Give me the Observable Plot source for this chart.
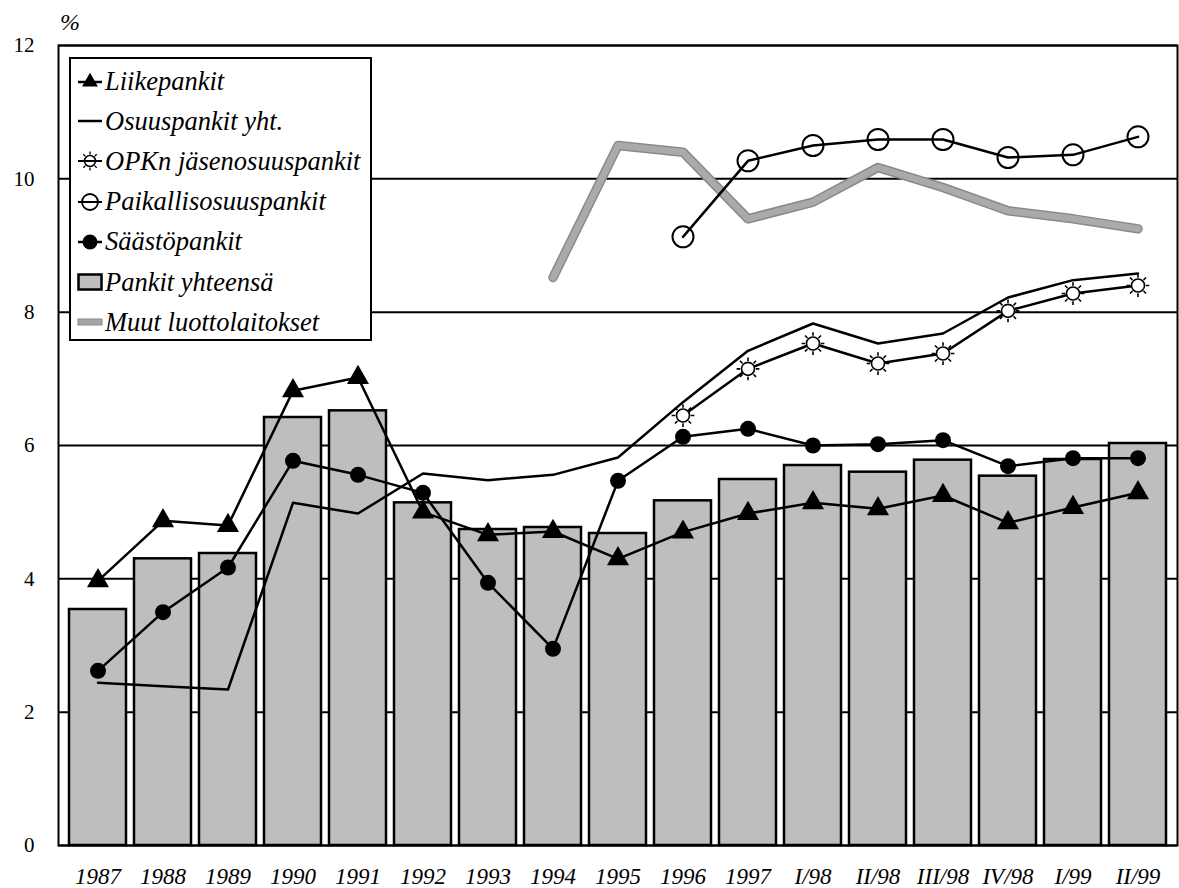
<!DOCTYPE html>
<html>
<head>
<meta charset="utf-8">
<script src="https://cdn.jsdelivr.net/npm/d3@7"></script>
<script src="https://cdn.jsdelivr.net/npm/@observablehq/plot@0.6"></script>
<style>
  html, body { margin: 0; padding: 0; background: white; }
  #wrap { position: relative; width: 1179px; height: 888px; overflow: hidden; font-family: "Liberation Serif", "Times New Roman", "DejaVu Serif", serif; }
  #wrap svg text { font-family: "Liberation Serif", "Times New Roman", "DejaVu Serif", serif; }
  #pct { position: absolute; left: 60px; top: 9px; font-style: italic; font-size: 24px; }
  #legend { position: absolute; left: 69px; top: 57px; width: 299px; height: 280px; border: 2px solid black; background: white; font-style: italic; font-size: 26.5px; }
  .row { position: absolute; left: 6px; height: 30px; display: flex; align-items: center; white-space: nowrap; }
  .row svg { margin-right: 2px; }
</style>
</head>
<body>
<div id="wrap">
  <div id="chart"></div>
  <div id="pct">%</div>
  <div id="legend"></div>
</div>
<script>
const categories = ["1987","1988","1989","1990","1991","1992","1993","1994","1995","1996","1997","I/98","II/98","III/98","IV/98","I/99","II/99"];
const yTicks = [0, 2, 4, 6, 8, 10, 12];
const seriesNames = ["Liikepankit", "Osuuspankit yht.", "OPKn jäsenosuuspankit", "Paikallisosuuspankit", "Säästöpankit", "Pankit yhteensä", "Muut luottolaitokset"];

const pankitYhteensa = [3.54, 4.30, 4.38, 6.42, 6.52, 5.14, 4.74, 4.77, 4.68, 5.17, 5.49, 5.70, 5.60, 5.78, 5.54, 5.79, 6.03];
const liikepankit = [3.97, 4.87, 4.80, 6.82, 7.02, 5.00, 4.66, 4.71, 4.30, 4.70, 4.98, 5.14, 5.05, 5.25, 4.84, 5.07, 5.29];
const saastopankit = [2.62, 3.50, 4.17, 5.77, 5.56, 5.29, 3.94, 2.95, 5.47, 6.13, 6.25, 6.00, 6.02, 6.08, 5.69, 5.81, 5.81];
const osuuspankit = [2.44, 2.39, 2.34, 5.14, 4.98, 5.58, 5.48, 5.56, 5.82, 6.65, 7.42, 7.83, 7.53, 7.68, 8.22, 8.48, 8.58];
const opkn = [null, null, null, null, null, null, null, null, null, 6.45, 7.15, 7.53, 7.23, 7.38, 8.02, 8.28, 8.40];
const paikallis = [null, null, null, null, null, null, null, null, null, 9.13, 10.27, 10.50, 10.59, 10.59, 10.32, 10.36, 10.63];
const muut = [null, null, null, null, null, null, null, 8.52, 10.50, 10.40, 9.40, 9.65, 10.17, 9.87, 9.52, 9.40, 9.25];

const rows = vals => categories.map((c, i) => ({c, v: vals[i]})).filter(d => d.v != null);

const sun = {
  draw(ctx, size) {
    const r = Math.sqrt(size / Math.PI);
    ctx.moveTo(r, 0);
    ctx.arc(0, 0, r, 0, 2 * Math.PI);
    for (let i = 0; i < 8; i++) {
      const a = i * Math.PI / 4;
      ctx.moveTo(Math.cos(a) * r * 1.2, Math.sin(a) * r * 1.2);
      ctx.lineTo(Math.cos(a) * r * 1.75, Math.sin(a) * r * 1.75);
    }
  }
};

const chart = Plot.plot({
  width: 1179, height: 888,
  marginLeft: 58, marginRight: 2, marginTop: 45, marginBottom: 43,
  style: {fontFamily: "'Liberation Serif', 'Times New Roman', serif", background: "white", color: "black", overflow: "visible"},
  x: {domain: categories, paddingInner: 0.13, paddingOuter: 0.05, axis: null},
  y: {domain: [0, 12], axis: null},
  marks: [
    Plot.gridY(yTicks, {stroke: "black", strokeOpacity: 1, strokeWidth: 2}),
    Plot.barY(rows(pankitYhteensa), {x: "c", y: "v", fill: "#bebebe", stroke: "black", strokeWidth: 2.5}),
    Plot.frame({stroke: "black", strokeWidth: 2}),
    Plot.axisX({tickSize: 0, tickPadding: 22, fontStyle: "italic", fontSize: 23, label: null}),
    Plot.axisY(yTicks, {tickSize: 0, tickPadding: 24, fontSize: 21, label: null, tickFormat: d => String(d)}),
    Plot.line(rows(muut), {x: "c", y: "v", stroke: "#8a8a8a", strokeWidth: 9.5, strokeLinejoin: "round", strokeLinecap: "round"}),
    Plot.line(rows(muut), {x: "c", y: "v", stroke: "#aaaaaa", strokeWidth: 6.5, strokeLinejoin: "round", strokeLinecap: "round"}),
    Plot.line(rows(osuuspankit), {x: "c", y: "v", stroke: "black", strokeWidth: 2.5}),
    Plot.line(rows(opkn), {x: "c", y: "v", stroke: "black", strokeWidth: 2.5}),
    Plot.dot(rows(opkn), {x: "c", y: "v", symbol: sun, r: 6.5, fill: "white", stroke: "black", strokeWidth: 1.6}),
    Plot.line(rows(paikallis), {x: "c", y: "v", stroke: "black", strokeWidth: 2.5}),
    Plot.dot(rows(paikallis), {x: "c", y: "v", r: 10.5, fill: "none", stroke: "black", strokeWidth: 2}),
    Plot.line(rows(saastopankit), {x: "c", y: "v", stroke: "black", strokeWidth: 2.5}),
    Plot.dot(rows(saastopankit), {x: "c", y: "v", r: 8, fill: "black"}),
    Plot.line(rows(liikepankit), {x: "c", y: "v", stroke: "black", strokeWidth: 2.5}),
    Plot.dot(rows(liikepankit), {x: "c", y: "v", symbol: "triangle", r: 8.2, fill: "black"})
  ]
});
document.getElementById("chart").appendChild(chart);

// Legend
const swatches = [
  `<svg width="26" height="24"><line x1="1" x2="25" y1="13" y2="13" stroke="black" stroke-width="2.5"/><path d="${d3.symbol(d3.symbolTriangle, 110)()}" transform="translate(13,13)" fill="black"/></svg>`,
  `<svg width="26" height="24"><line x1="1" x2="25" y1="12" y2="12" stroke="black" stroke-width="2.5"/></svg>`,
  `<svg width="26" height="24"><line x1="1" x2="25" y1="12" y2="12" stroke="black" stroke-width="2"/><circle cx="13" cy="12" r="5.5" fill="none" stroke="black" stroke-width="1.5"/>${d3.range(8).map(i => { const a = i * Math.PI / 4; return `<line x1="${13 + Math.cos(a) * 6.5}" y1="${12 + Math.sin(a) * 6.5}" x2="${13 + Math.cos(a) * 9.5}" y2="${12 + Math.sin(a) * 9.5}" stroke="black" stroke-width="1.3"/>`; }).join("")}</svg>`,
  `<svg width="26" height="24"><line x1="1" x2="25" y1="12" y2="12" stroke="black" stroke-width="2"/><circle cx="13" cy="12" r="8" fill="none" stroke="black" stroke-width="1.8"/></svg>`,
  `<svg width="26" height="24"><line x1="1" x2="25" y1="12" y2="12" stroke="black" stroke-width="2.5"/><circle cx="13" cy="12" r="7.5" fill="black"/></svg>`,
  `<svg width="26" height="24"><rect x="1.5" y="4.5" width="23" height="15" fill="#bebebe" stroke="black" stroke-width="2.5"/></svg>`,
  `<svg width="26" height="24"><rect x="1" y="9" width="24" height="6" fill="#a5a5a5" stroke="#8a8a8a" stroke-width="1"/></svg>`
];
const legend = document.getElementById("legend");
seriesNames.forEach((name, i) => {
  const row = document.createElement("div");
  row.className = "row";
  row.style.top = (7 + i * 40.2) + "px";
  row.innerHTML = swatches[i] + `<span>${name}</span>`;
  legend.appendChild(row);
});
</script>
</body>
</html>
